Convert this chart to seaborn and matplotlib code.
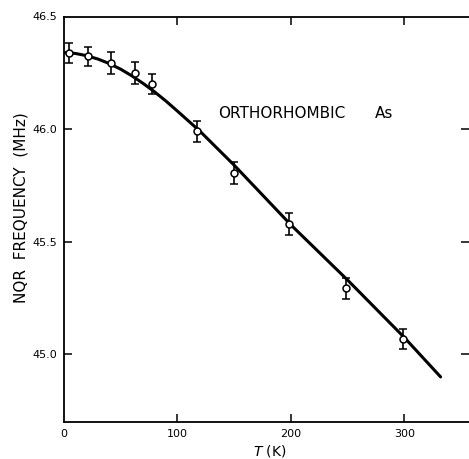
import matplotlib
matplotlib.use("Agg")
import matplotlib.pyplot as plt
import seaborn as sns

# measured points
temp_k = [4.5, 21, 41, 62.5, 77.5, 117, 150, 198, 249, 298.5]
freq_mhz = [46.338, 46.324, 46.293, 46.249, 46.200, 45.991, 45.804, 45.578, 45.293, 45.070]
freq_err = [0.046, 0.042, 0.048, 0.048, 0.045, 0.046, 0.048, 0.048, 0.045, 0.045]

# fitted curve
curve_t = [0, 10, 20, 30, 40, 50, 60, 70, 80, 90, 100, 110, 120, 150, 200, 250, 300, 332]
curve_f = [46.340, 46.336, 46.326, 46.311, 46.291, 46.266, 46.236, 46.202, 46.165, 46.124,
           46.080, 46.035, 45.990, 45.840, 45.575, 45.330, 45.075, 44.900]

xticks = [0, 100, 200, 300]
yticks = [45.0, 45.5, 46.0, 46.5]
ytick_labels = ["45.0", "45.5", "46.0", "46.5"]

sns.set_style("white")
plt.rcParams['font.family'] = ['DejaVu Sans']

fig = plt.figure(figsize=(4.69, 4.59), dpi=100)
ax = fig.add_axes([64/469, 1-422/459, 1-64/469, (422-16.5)/459])

sns.lineplot(x=curve_t, y=curve_f, ax=ax, color="black", linewidth=2.2, sort=False)
ax.errorbar(temp_k, freq_mhz, yerr=freq_err, fmt="o", mfc="white", mec="black",
            ecolor="black", ms=5, mew=1.1, elinewidth=1.2, capsize=3, capthick=1.2, zorder=5)

ax.set_xlim(0, 357)
ax.set_ylim(44.70, 46.5)
ax.set_xticks(xticks)
ax.set_xticklabels([str(t) for t in xticks], fontsize=8, color="black")
ax.set_yticks(yticks)
ax.set_yticklabels(ytick_labels, fontsize=8, color="black")

ax.tick_params(axis="both", direction="in", length=6, width=1.1, color="black",
               top=True, right=True, bottom=True, left=True, pad=5)
ax.tick_params(axis="x", labeltop=False)
ax.xaxis.get_major_ticks()[0].tick1line.set_visible(False)
ax.xaxis.get_major_ticks()[0].tick2line.set_visible(False)
ax.yaxis.get_major_ticks()[3].tick1line.set_visible(False)
ax.yaxis.get_major_ticks()[3].tick2line.set_visible(False)

for s in ["left", "bottom", "top"]:
    ax.spines[s].set_linewidth(1.3)
    ax.spines[s].set_color("black")
ax.spines["right"].set_visible(False)

ax.set_ylabel("")
fig.text(21/469, 1-208/459, "NQR  FREQUENCY  (MHz)", rotation=90, fontsize=11,
         ha="center", va="center", color="black")
ax.set_xlabel("")
fig.text(270/469, 1-451/459, r"$T$ (K)", fontsize=10, ha="center", va="center", color="black")
ax.text(136, 46.07, "ORTHORHOMBIC", fontsize=11, va="center", ha="left", color="black")
ax.text(274, 46.07, "As", fontsize=11, va="center", ha="left", color="black")

fig.savefig("out.png", dpi=100)
